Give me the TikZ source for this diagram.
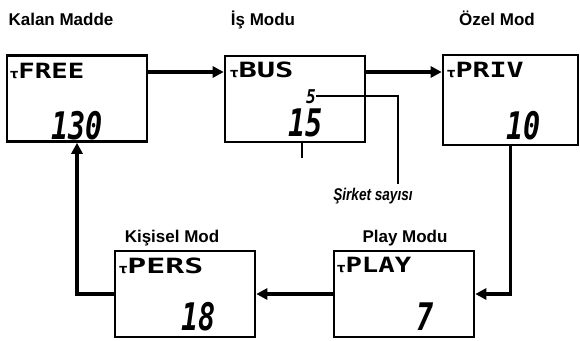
\documentclass[tikz,border=0pt]{standalone}
\usepackage{fontspec}
\setmainfont{Liberation Sans}
\newfontfamily\lcdfont{DejaVu Sans Mono}
\newfontfamily\symfont{DejaVu Sans}
\usetikzlibrary{arrows.meta}
\newcommand{\antsym}{{\symfont\bfseries\fontsize{13}{13}\selectfont τ}}
\begin{document}
\begin{tikzpicture}[x=1pt,y=-1pt,
  lcdbox/.style={draw, line width=2.6pt, inner sep=0pt, minimum width=140pt, minimum height=86pt},
  arr/.style={line width=3.4pt, -{Triangle[length=11pt,width=11pt]}},
  title/.style={font=\fontsize{17}{18}\selectfont\bfseries, inner sep=0pt, anchor=base},
  hdr/.style={font=\lcdfont\bfseries\fontsize{21}{22}\selectfont, inner sep=0pt, anchor=base west},
  num/.style={font=\lcdfont\bfseries\itshape\fontsize{38}{40}\selectfont, inner sep=0pt, anchor=base east},
  smallnum/.style={font=\lcdfont\bfseries\itshape\fontsize{19}{20}\selectfont, inner sep=0pt, anchor=base east},
  callout/.style={font=\fontsize{17}{18}\selectfont\bfseries\itshape, inner sep=0pt, anchor=base}
]
\useasboundingbox (0,0) rectangle (580,340);

% boxes
\node[lcdbox] (free) at (77,98.5) {};
\node[lcdbox] (bus)  at (295,99) {};
\node[lcdbox, minimum width=135pt, minimum height=90pt] (priv) at (510.5,100) {};
\node[lcdbox] (pers) at (185,294) {};
\node[lcdbox] (play) at (404,294) {};

% titles
\node[title] (tfree) at (61,25) {Kalan Madde};
\node[title] (tbus)  at (263,25) {İş Modu};
\node[title] (tpriv) at (497,25) {Özel Mod};
\node[title] (tpers) at (172,242) {Kişisel Mod};
\node[title] (tplay) at (405,242) {Play Modu};

% display headers
\node[hdr] (hfree) at (10,78) {\antsym\scalebox{1.3}[1]{FREE}};
\node[hdr] (hbus)  at (230,77) {\antsym\scalebox{1.45}[1]{BUS}};
\node[hdr] (hpriv) at (447,77) {\antsym\scalebox{1.35}[1]{PRIV}};
\node[hdr] (hpers) at (119,273) {\antsym\scalebox{1.5}[1]{PERS}};
\node[hdr] (hplay) at (337,272) {\antsym\scalebox{1.3}[1]{PLAY}};

% numbers
\node[num] (nfree) at (103,139) {\scalebox{0.75}[1]{130}};
\node[num] (nbus)  at (323,136) {\scalebox{0.75}[1]{15}};
\node[smallnum] (nfive) at (316,103) {\scalebox{0.85}[1]{5}};
\node[num] (npriv) at (541,139) {\scalebox{0.75}[1]{10}};
\node[num] (npers) at (216,330) {\scalebox{0.75}[1]{18}};
\node[num] (nplay) at (434,330) {\scalebox{0.75}[1]{7}};

% connectors
\draw[arr] (free.east |- 0,72) -- (bus.west |- 0,72);
\draw[arr] (bus.east |- 0,72) -- (priv.west |- 0,72);
\draw[arr] (priv.south) |- (play.east);
\draw[arr] (play.west) -- (pers.east);
\draw[arr] (pers.west) -| (free.south);

% callout
\node[callout] (sirket) at (373,200) {\scalebox{0.8}[1]{Şirket sayısı}};
\coordinate (bend) at (398,0);
\draw[line width=1.6pt] (nfive.east) -- (nfive.east -| bend) -- (bend |- 0,184);
\coordinate (tick) at (302,158);
\draw[line width=1.8pt] (tick |- bus.south) -- (tick);
\end{tikzpicture}
\end{document}
